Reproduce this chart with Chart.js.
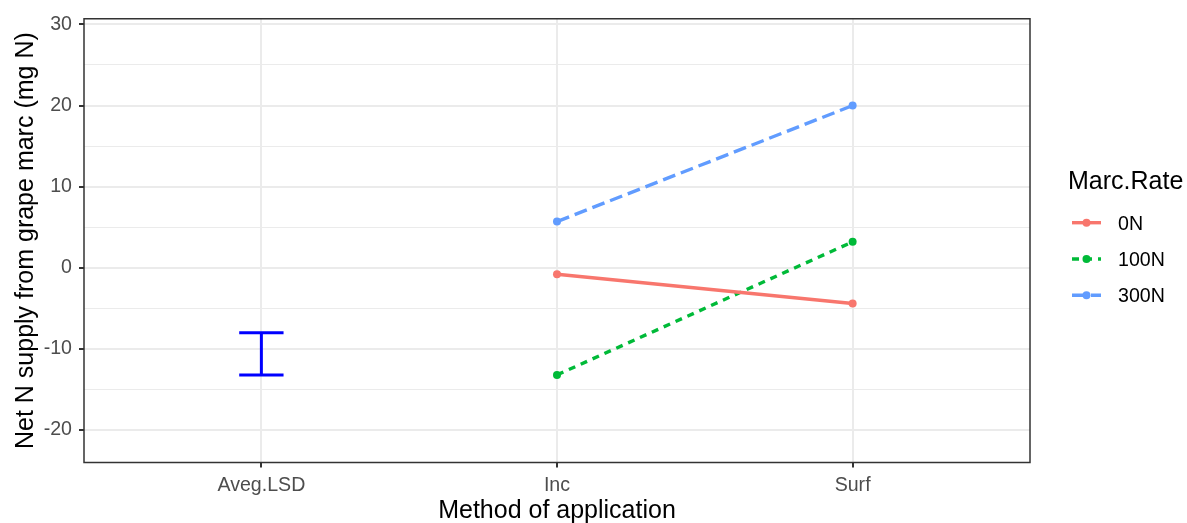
<!DOCTYPE html>
<html>
<head>
<meta charset="utf-8">
<script src="https://cdn.jsdelivr.net/npm/chart.js@4"></script>
<style>
  html, body { margin: 0; padding: 0; background: #fff; }
</style>
</head>
<body>
<canvas id="chart" width="1187" height="523"></canvas>
<script>
const categories = ["Aveg.LSD", "Inc", "Surf"];
const methods = ["Inc", "Surf"];
const rateLabels = ["0N", "100N", "300N"];
const rate0N = [-0.8, -4.4];
const rate100N = [-13.2, 3.2];
const rate300N = [5.7, 20.0];
const lsdRange = [-13.2, -8.0];
const lsdCapWidth = 0.15;
const yTicks = [-20, -10, 0, 10, 20, 30];
const yMinorTicks = [-15, -5, 5, 15, 25];

const COLORS = ["#F8766D", "#00BA38", "#619CFF"];
const DASHES = [[], [7, 6], [13, 6]];
const FONT = "'Liberation Sans', Arial, sans-serif";

function toPoints(values) {
    return values.map((v, i) => ({ x: categories.indexOf(methods[i]), y: v }));
}

const lsdX = categories.indexOf("Aveg.LSD");
const seriesValues = [rate0N, rate100N, rate300N];

const seriesSets = seriesValues.map((vals, i) => ({
    label: rateLabels[i],
    data: toPoints(vals),
    borderColor: COLORS[i],
    backgroundColor: COLORS[i],
    borderWidth: 3.4,
    borderDash: DASHES[i],
    pointRadius: 4,
    pointBorderWidth: 0,
    pointBackgroundColor: COLORS[i],
    tension: 0
}));

function lsdLine(points) {
    return {
        label: "lsd",
        data: points,
        borderColor: "#0000FF",
        borderWidth: 3,
        pointRadius: 0,
        borderCapStyle: "butt"
    };
}

const lsdSets = [
    lsdLine([{ x: lsdX, y: lsdRange[0] }, { x: lsdX, y: lsdRange[1] }]),
    lsdLine([{ x: lsdX - lsdCapWidth / 2, y: lsdRange[0] }, { x: lsdX + lsdCapWidth / 2, y: lsdRange[0] }]),
    lsdLine([{ x: lsdX - lsdCapWidth / 2, y: lsdRange[1] }, { x: lsdX + lsdCapWidth / 2, y: lsdRange[1] }])
];

// panel border on top of data
const borderPlugin = {
    id: "panelBorder",
    afterDatasetsDraw(chart) {
        const { ctx, chartArea } = chart;
        ctx.save();
        ctx.strokeStyle = "#333333";
        ctx.lineWidth = 1.5;
        ctx.strokeRect(chartArea.left, chartArea.top,
            chartArea.right - chartArea.left, chartArea.bottom - chartArea.top);
        ctx.restore();
    }
};

// ggplot style legend
const legendPlugin = {
    id: "rateLegend",
    afterDraw(chart) {
        const ctx = chart.ctx;
        const left = chart.chartArea.right + 38;
        ctx.save();
        ctx.fillStyle = "#000";
        ctx.font = "25px " + FONT;
        ctx.textBaseline = "alphabetic";
        ctx.fillText("Marc.Rate", left, 188.5);
        ctx.font = "19.6px " + FONT;
        seriesSets.forEach((ds, i) => {
            const y = 222.7 + i * 36.3;
            ctx.strokeStyle = ds.borderColor;
            ctx.lineWidth = 3.4;
            ctx.setLineDash(ds.borderDash);
            ctx.beginPath();
            ctx.moveTo(left + 4, y);
            ctx.lineTo(left + 33, y);
            ctx.stroke();
            ctx.setLineDash([]);
            ctx.fillStyle = ds.borderColor;
            ctx.beginPath();
            ctx.arc(left + 18.5, y, 4, 0, Math.PI * 2);
            ctx.fill();
            ctx.fillStyle = "#000";
            ctx.fillText(ds.label, left + 50, y + 7);
        });
        ctx.restore();
    }
};

new Chart(document.getElementById("chart"), {
    type: "line",
    data: { datasets: [...lsdSets, ...seriesSets] },
    options: {
        responsive: false,
        animation: false,
        layout: { padding: { left: 0, right: 157, top: 17.5, bottom: 0 } },
        plugins: { legend: { display: false }, tooltip: { enabled: false } },
        scales: {
            x: {
                type: "linear",
                min: -0.6,
                max: 2.6,
                afterBuildTicks: (s) => { s.ticks = categories.map((c, i) => ({ value: i })); },
                afterFit: (s) => { s.height = 60.5; },
                ticks: {
                    autoSkip: false,
                    maxRotation: 0,
                    padding: 6,
                    color: "#4D4D4D",
                    font: { family: FONT, size: 19.6 },
                    callback: (v) => categories[v] ?? ""
                },
                grid: { color: "#EBEBEB", lineWidth: 2, tickColor: "#333333", tickLength: 5, tickWidth: 2 },
                border: { display: false },
                title: {
                    display: true,
                    text: "Method of application",
                    color: "#000",
                    font: { family: FONT, size: 25, lineHeight: 1 },
                    padding: { top: 0, bottom: -1 }
                }
            },
            y: {
                min: -24.0,
                max: 30.7,
                afterBuildTicks: (s) => {
                    s.ticks = [...yTicks, ...yMinorTicks].sort((a, b) => a - b).map(v => ({ value: v }));
                },
                afterFit: (s) => { s.width = 84; },
                ticks: {
                    padding: 7,
                    color: "#4D4D4D",
                    font: { family: FONT, size: 19.6 },
                    callback: (v) => yTicks.includes(v) ? String(v) : ""
                },
                grid: {
                    color: "#EBEBEB",
                    lineWidth: (c) => c.tick && yTicks.includes(c.tick.value) ? 2 : 1.1,
                    tickColor: (c) => c.tick && yTicks.includes(c.tick.value) ? "#333333" : "rgba(0,0,0,0)",
                    tickLength: 5,
                    tickWidth: 2
                },
                border: { display: false },
                title: {
                    display: true,
                    text: "Net N supply from grape marc (mg N)",
                    color: "#000",
                    font: { family: FONT, size: 25, lineHeight: 1 },
                    padding: { top: 14, bottom: 0 }
                }
            }
        }
    },
    plugins: [borderPlugin, legendPlugin]
});
</script>
</body>
</html>
